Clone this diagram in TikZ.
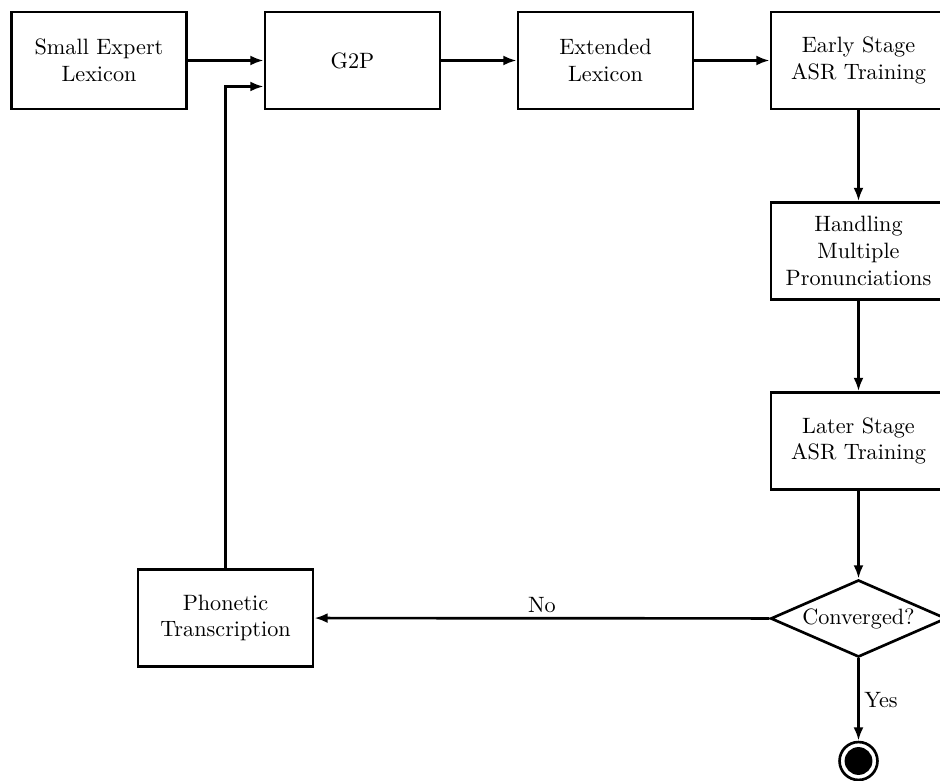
\documentclass[tikz,border=0pt]{standalone}
\usetikzlibrary{arrows.meta, positioning, shapes.geometric}
\begin{document}
\begin{tikzpicture}[x=0.01582cm, y=-0.01582cm,
    blk/.style={draw, line width=1.2pt, minimum width=2.77cm, minimum height=1.535cm, align=center, inner sep=3pt},
    dec/.style={draw, diamond, aspect=2.3, line width=1.2pt, minimum width=2.78cm, minimum height=1.22cm, inner sep=0pt},
    a/.style={-{Latex[length=6pt, width=4.5pt]}, line width=1.2pt},
    al/.style={inner sep=2pt}
]
\clip (0,0) rectangle (940,781);
\node[blk] (lex)   at (99,60.5)    {Small Expert\\Lexicon};
\node[blk] (g2p)   at (352.5,60.5) {G2P};
\node[blk] (ext)   at (605.5,60.5) {Extended\\Lexicon};
\node[blk] (early) at (858.5,60.5) {Early Stage\\ASR Training};
\node[blk] (multi) at (858.5,251)  {Handling\\Multiple\\Pronunciations};
\node[blk] (later) at (858.5,441)  {Later Stage\\ASR Training};
\node[dec] (conv)  at (858.5,618.5) {Converged?};
\node[blk] (phon)  at (225.5,618)  {Phonetic\\Transcription};
\node[circle, draw, line width=1.2pt, minimum size=0.6cm, inner sep=0pt] (stop) at (858.5,761) {};
\node[circle, fill, minimum size=0.44cm, inner sep=0pt] (stopdot) at (stop) {};
\draw[a] (lex) -- (g2p);
\draw[a] (g2p) -- (ext);
\draw[a] (ext) -- (early);
\draw[a] (early) -- (multi);
\draw[a] (multi) -- (later);
\draw[a] (later) -- (conv);
\draw[a] (conv) -- node[al,above]{No} (phon);
\draw[a] (conv) -- node[al,right]{Yes} (stop);
\draw[a] (phon.north) |- ([yshift=-11.7pt]g2p.west);
\end{tikzpicture}
\end{document}
